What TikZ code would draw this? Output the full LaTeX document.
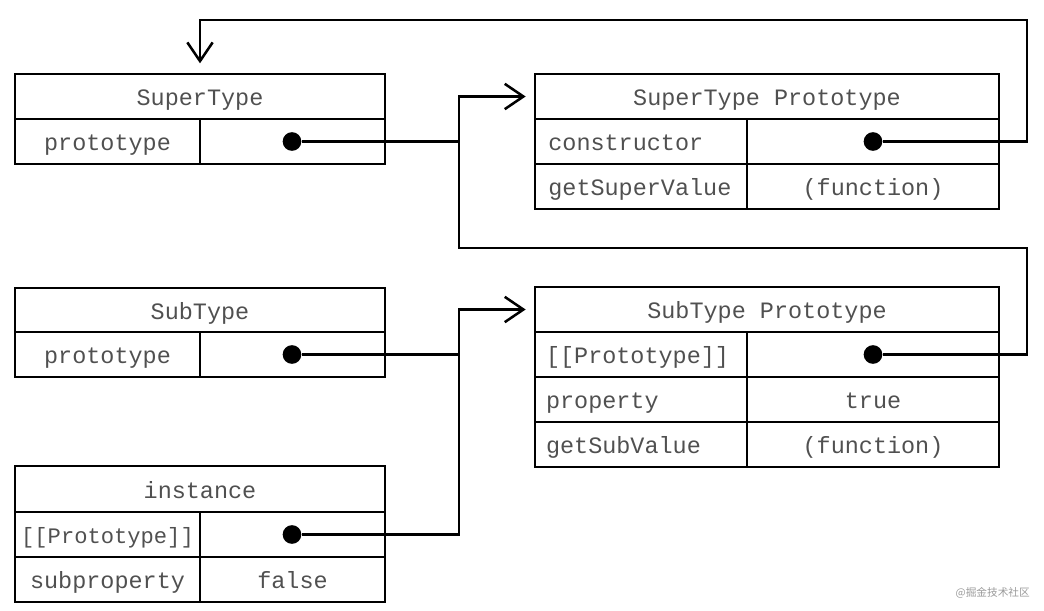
\documentclass[tikz,border=0pt]{standalone}
\usepackage{fontspec}
\setmonofont{Liberation Mono}
\newfontfamily\cjkfont{Noto Sans CJK SC}
\usetikzlibrary{arrows.meta}
\definecolor{txt}{HTML}{505050}
\definecolor{wmc}{HTML}{9A9A9A}
\begin{document}
\begin{tikzpicture}[x=0.75pt,y=-0.75pt,
  cell/.style={draw, line width=1.5pt, anchor=north west, inner sep=0pt, outer sep=0pt,
    text=txt, font=\ttfamily\fontsize{17.6}{20}\selectfont, text height=14pt, text depth=0pt},
  lcell/.style={cell, align=left, text width=#1},
  dot/.style={circle, fill=black, inner sep=0pt, minimum size=14pt},
  conn/.style={line width=1.9pt, line join=miter},
  arr/.style={conn, -{Straight Barb[length=14pt,width=19pt,line width=1.9pt]}}
]
\useasboundingbox (0,0) rectangle (1044,610);

% SuperType
\node[cell, minimum width=277.5pt, minimum height=33.75pt] (st-h) at (15,74) {SuperType};
\node[cell, minimum width=138.75pt, minimum height=33.75pt] (st-l) at (15,119) {prototype};
\node[cell, minimum width=138.75pt, minimum height=33.75pt] (st-r) at (200,119) {};

% SubType
\node[cell, minimum width=277.5pt, minimum height=33pt] (sb-h) at (15,288) {SubType};
\node[cell, minimum width=138.75pt, minimum height=33.75pt] (sb-l) at (15,332) {prototype};
\node[cell, minimum width=138.75pt, minimum height=33.75pt] (sb-r) at (200,332) {};

% instance
\node[cell, minimum width=277.5pt, minimum height=34.5pt] (in-h) at (15,466) {instance};
\node[cell, minimum width=138.75pt, minimum height=33.75pt, font=\ttfamily\fontsize{16.6}{20}\selectfont] (in-l1) at (15,512) {[[Prototype]]};
\node[cell, minimum width=138.75pt, minimum height=33.75pt] (in-r1) at (200,512) {};
\node[cell, minimum width=138.75pt, minimum height=33.75pt] (in-l2) at (15,557) {subproperty};
\node[cell, minimum width=138.75pt, minimum height=33.75pt] (in-r2) at (200,557) {false};

% SuperType Prototype
\node[cell, minimum width=348pt, minimum height=33.75pt] (stp-h) at (535,74) {SuperType Prototype};
\node[lcell=139pt, inner xsep=10pt, minimum width=159pt, minimum height=33.75pt] (stp-l1) at (535,119) {constructor};
\node[cell, minimum width=189pt, minimum height=33.75pt] (stp-r1) at (747,119) {};
\node[lcell=139pt, inner xsep=10pt, minimum width=159pt, minimum height=33.75pt] (stp-l2) at (535,164) {getSuperValue};
\node[cell, minimum width=189pt, minimum height=33.75pt] (stp-r2) at (747,164) {(function)};

% SubType Prototype
\node[cell, minimum width=348pt, minimum height=33.75pt] (sbp-h) at (535,287) {SubType Prototype};
\node[lcell=142.5pt, inner xsep=8.25pt, minimum width=159pt, minimum height=33.75pt] (sbp-l1) at (535,332) {[[Prototype]]};
\node[cell, minimum width=189pt, minimum height=33.75pt] (sbp-r1) at (747,332) {};
\node[lcell=142.5pt, inner xsep=8.25pt, minimum width=159pt, minimum height=33.75pt] (sbp-l2) at (535,377) {property};
\node[cell, minimum width=189pt, minimum height=33.75pt] (sbp-r2) at (747,377) {true};
\node[lcell=142.5pt, inner xsep=8.25pt, minimum width=159pt, minimum height=33.75pt] (sbp-l3) at (535,422) {getSubValue};
\node[cell, minimum width=189pt, minimum height=33.75pt] (sbp-r3) at (747,422) {(function)};

% dots
\node[dot] (st-dot) at (292,141.5) {};
\node[dot] (sb-dot) at (292,354.5) {};
\node[dot] (in-dot) at (292,534.5) {};
\node[dot] (stp-dot) at (873,141.5) {};
\node[dot] (sbp-dot) at (873,354.5) {};

% routing coordinates
\coordinate (busA) at (459,0);
\coordinate (busR) at (1027,0);
\coordinate (topY) at (0,20);
\coordinate (midY) at (0,248);

% connectors
\draw[arr, shorten >=8pt] (stp-dot) -- (stp-dot -| busR) |- (topY -| st-h.north) -- (st-h.north);
\draw[arr, shorten >=7pt] (sbp-dot) -- (sbp-dot -| busR) |- (midY -| busA) |- (stp-h.west);
\draw[conn] (st-dot) -- (st-dot -| busA);
\draw[arr, shorten >=7pt] (sb-dot) -- (sb-dot -| busA) |- (sbp-h.west);
\draw[conn] (in-dot) -- (in-dot -| busA) -- (sb-dot -| busA);

% watermark
\node[anchor=east, text=wmc, font=\cjkfont\fontsize{8}{9}\selectfont, inner sep=0pt] (wm) at (1030,593) {@掘金技术社区};
\end{tikzpicture}
\end{document}
